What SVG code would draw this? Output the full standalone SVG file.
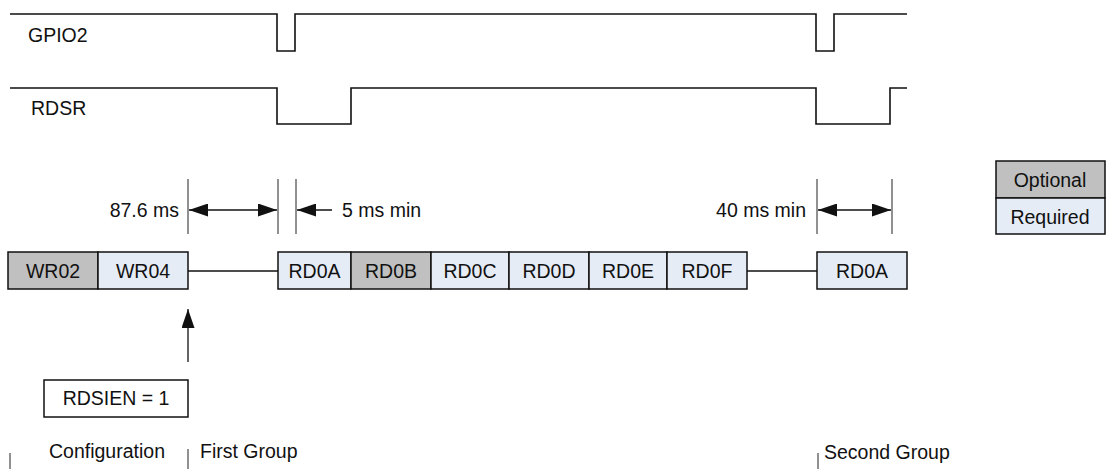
<svg xmlns="http://www.w3.org/2000/svg" width="1106" height="469" viewBox="0 0 1106 469">
<style>
text{font-family:"Liberation Sans",Arial,sans-serif;font-size:19.5px;fill:#111}
.c{text-anchor:middle}
.sig{fill:none;stroke:#111;stroke-width:1.6}
.opt{fill:#c0c0c0;stroke:#111;stroke-width:1.5}
.req{fill:#e6ecf6;stroke:#111;stroke-width:1.5}
.tick{stroke:#222;stroke-width:1}
.ln{stroke:#111;stroke-width:1.3;fill:none}
</style>
<defs>
<marker id="ah" markerWidth="20" markerHeight="13" refX="19" refY="6.5" orient="auto" markerUnits="userSpaceOnUse">
<path d="M0,0 L19,6.5 L0,13 Z" fill="#111"/>
</marker>
</defs>
<g id="signals">
<path class="sig" d="M10,14 H277 V51 H295 V14 H816 V51 H834 V14 H907"/>
<path class="sig" d="M10,88 H277 V124 H351 V88 H816 V124 H890 V88 H907"/>
<text x="28" y="42">GPIO2</text>
<text x="31" y="115">RDSR</text>
</g>
<g id="connectors">
<line class="tick" x1="188" y1="179" x2="188" y2="234"/>
<line class="tick" x1="278" y1="179" x2="278" y2="234"/>
<line class="tick" x1="296" y1="179" x2="296" y2="234"/>
<line class="tick" x1="817" y1="179" x2="817" y2="234"/>
<line class="tick" x1="892" y1="179" x2="892" y2="234"/>
<line class="ln" x1="233" y1="210" x2="189" y2="210" marker-end="url(#ah)"/>
<line class="ln" x1="233" y1="210" x2="277" y2="210" marker-end="url(#ah)"/>
<line class="ln" x1="332" y1="210" x2="297" y2="210" marker-end="url(#ah)"/>
<line class="ln" x1="854" y1="210" x2="818" y2="210" marker-end="url(#ah)"/>
<line class="ln" x1="854" y1="210" x2="891" y2="210" marker-end="url(#ah)"/>
<line class="ln" x1="188" y1="271" x2="278" y2="271"/>
<line class="ln" x1="747" y1="271" x2="817" y2="271"/>
<line class="ln" x1="188" y1="362" x2="188" y2="309" marker-end="url(#ah)"/>
<line class="tick" x1="10" y1="453" x2="10" y2="469"/>
<line class="tick" x1="188" y1="449" x2="188" y2="469"/>
<line class="tick" x1="818" y1="453" x2="818" y2="469"/>
</g>
<g id="labels">
<text x="179" y="217" text-anchor="end">87.6 ms</text>
<text x="342" y="217">5 ms min</text>
<text x="806" y="217" text-anchor="end">40 ms min</text>
<text x="49" y="458">Configuration</text>
<text x="200" y="458">First Group</text>
<text x="824" y="459">Second Group</text>
</g>
<g id="WR02"><rect class="opt" x="8" y="252" width="90" height="37"/><text class="c" x="53" y="278">WR02</text></g>
<g id="WR04"><rect class="req" x="98" y="252" width="90" height="37"/><text class="c" x="143" y="278">WR04</text></g>
<g id="RD0A-1"><rect class="req" x="278" y="252" width="73" height="37"/><text class="c" x="314.5" y="278">RD0A</text></g>
<g id="RD0B"><rect class="opt" x="351" y="252" width="80" height="37"/><text class="c" x="391" y="278">RD0B</text></g>
<g id="RD0C"><rect class="req" x="431" y="252" width="78" height="37"/><text class="c" x="470" y="278">RD0C</text></g>
<g id="RD0D"><rect class="req" x="509" y="252" width="80" height="37"/><text class="c" x="549" y="278">RD0D</text></g>
<g id="RD0E"><rect class="req" x="589" y="252" width="78" height="37"/><text class="c" x="628" y="278">RD0E</text></g>
<g id="RD0F"><rect class="req" x="667" y="252" width="80" height="37"/><text class="c" x="707" y="278">RD0F</text></g>
<g id="RD0A-2"><rect class="req" x="817" y="252" width="90" height="37"/><text class="c" x="862" y="278">RD0A</text></g>
<g id="RDSIEN"><rect x="44" y="380" width="144" height="37" fill="#fff" stroke="#111" stroke-width="1.5"/><text class="c" x="116" y="405">RDSIEN = 1</text></g>
<g id="legend-optional"><rect class="opt" x="996" y="161" width="109" height="37"/><text class="c" x="1050" y="187">Optional</text></g>
<g id="legend-required"><rect class="req" x="996" y="198" width="109" height="36"/><text class="c" x="1050" y="224">Required</text></g>
</svg>
